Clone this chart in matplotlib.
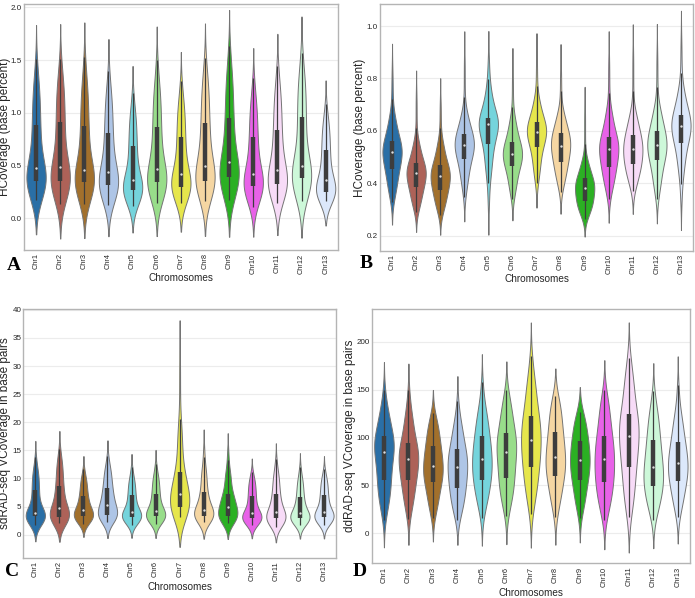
import math
import numpy as np
import matplotlib
matplotlib.use("Agg")
import matplotlib.pyplot as plt

plt.rcParams['font.family'] = ['Liberation Sans', 'DejaVu Sans']

chromosomes = ["Chr1", "Chr2", "Chr3", "Chr4", "Chr5", "Chr6", "Chr7",
               "Chr8", "Chr9", "Chr10", "Chr11", "Chr12", "Chr13"]
palette = ["#2a6fa6", "#ad6258", "#a2702c", "#aec5e6", "#75d4dc", "#98dd8a",
           "#e6e64c", "#f5d6a2", "#2bb023", "#e862e8", "#f7dbf7", "#cdf8d9",
           "#dce8fb"]

# quantile levels of the summary values
quantile_levels = [0.0, 0.05, 0.25, 0.50, 0.75, 0.95, 1.0]

# ---- Panel A: HCoverage (base percent) ----
A_min = [0.17, 0.14, 0.14, 0.13, 0.12, 0.15, 0.15, 0.16, 0.17, 0.11, 0.15, 0.16, 0.16]
A_p05 = [0.22, 0.21, 0.20, 0.19, 0.17, 0.21, 0.20, 0.22, 0.23, 0.18, 0.20, 0.22, 0.19]
A_q1 = [0.357, 0.354, 0.348, 0.32, 0.27, 0.34, 0.30, 0.354, 0.395, 0.31, 0.33, 0.38, 0.25]
A_med = [0.474, 0.49, 0.46, 0.44, 0.36, 0.47, 0.42, 0.50, 0.53, 0.42, 0.46, 0.50, 0.36]
A_q3 = [0.885, 0.916, 0.875, 0.81, 0.69, 0.87, 0.77, 0.90, 0.95, 0.77, 0.84, 0.96, 0.65]
A_p95 = [1.28, 1.30, 1.28, 1.18, 1.00, 1.25, 1.10, 1.30, 1.38, 1.12, 1.22, 1.35, 0.92]
A_max = [1.51, 1.51, 1.53, 1.40, 1.19, 1.50, 1.30, 1.52, 1.63, 1.33, 1.44, 1.57, 1.08]

# ---- Panel B: HCoverage (base percent) ----
B_min = [0.33, 0.29, 0.28, 0.34, 0.30, 0.34, 0.39, 0.365, 0.265, 0.34, 0.37, 0.34, 0.32]
B_p05 = [0.37, 0.32, 0.31, 0.40, 0.43, 0.38, 0.44, 0.41, 0.29, 0.39, 0.41, 0.39, 0.44]
B_q1 = [0.455, 0.387, 0.375, 0.492, 0.549, 0.467, 0.54, 0.483, 0.332, 0.464, 0.473, 0.489, 0.555]
B_med = [0.518, 0.438, 0.428, 0.546, 0.627, 0.512, 0.597, 0.544, 0.383, 0.531, 0.531, 0.545, 0.617]
B_q3 = [0.562, 0.476, 0.47, 0.587, 0.648, 0.557, 0.632, 0.591, 0.419, 0.576, 0.585, 0.60, 0.661]
B_p95 = [0.66, 0.56, 0.56, 0.67, 0.76, 0.65, 0.72, 0.67, 0.49, 0.68, 0.67, 0.69, 0.76]
B_max = [0.845, 0.755, 0.725, 0.895, 0.885, 0.835, 0.89, 0.85, 0.70, 0.89, 0.92, 0.915, 0.96]

# ---- Panel C: sdRAD-seq VCoverage in base pairs ----
C_min = [1.7, 2.0, 1.9, 2.2, 1.8, 1.9, 3.2, 2.2, 2.0, 1.7, 1.4, 1.7, 1.7]
C_p05 = [2.2, 2.4, 2.3, 2.7, 2.3, 2.4, 3.8, 2.7, 2.5, 2.2, 1.9, 2.2, 2.2]
C_q1 = [3.3, 3.2, 3.3, 3.5, 3.2, 3.3, 5.0, 3.4, 3.3, 2.9, 2.9, 2.9, 3.1]
C_med = [3.8, 4.7, 4.3, 5.3, 4.0, 4.2, 7.3, 4.4, 5.0, 3.8, 4.0, 3.8, 4.0]
C_q3 = [7.9, 8.6, 6.9, 8.3, 7.0, 7.3, 11.2, 7.6, 7.3, 6.9, 7.2, 6.7, 7.0]
C_p95 = [11.5, 13.0, 10.0, 11.8, 10.0, 10.5, 20.0, 12.0, 11.5, 9.8, 11.0, 10.0, 10.0]
C_max = [13.8, 15.2, 11.7, 14.0, 12.0, 12.6, 32.8, 15.8, 15.3, 11.2, 13.5, 12.1, 11.6]

# ---- Panel D: ddRAD-seq VCoverage in base pairs ----
D_min = [14, 15, 16, 14, 16, 18, 20, 17, 16, 14, 17, 14, 17]
D_p05 = [30, 30, 28, 25, 32, 33, 38, 33, 30, 28, 32, 27, 30]
D_q1 = [56, 56, 53, 47.6, 56, 58, 69, 60, 56, 53, 69, 49, 55]
D_med = [85, 77, 70, 69, 77, 85, 97, 80, 76, 77, 101, 69, 73]
D_q3 = [101, 94, 91, 87.5, 101, 105, 122, 106, 96.5, 102, 124, 97, 95]
D_p95 = [128, 125, 115, 115, 130, 135, 160, 135, 120, 135, 165, 128, 125]
D_max = [150, 150, 125, 138, 158, 150, 185, 143, 127, 150, 183, 148, 157]

panels = [
    dict(letter="A", ylabel="HCoverage (base percent)",
         stats=[A_min, A_p05, A_q1, A_med, A_q3, A_p95, A_max],
         ylim=(-0.30, 2.031), yticks=[0.0, 0.5, 1.0, 1.5, 2.0], fmt="{:.1f}",
         rect=(24, 4, 337.7, 250), ylab_x=11.3, xlab_y=273.5, letter_xy=(14, 265)),
    dict(letter="B", ylabel="HCoverage (base percent)",
         stats=[B_min, B_p05, B_q1, B_med, B_q3, B_p95, B_max],
         ylim=(0.143, 1.084), yticks=[0.2, 0.4, 0.6, 0.8, 1.0], fmt="{:.1f}",
         rect=(380, 4, 693, 250.7), ylab_x=365.5, xlab_y=274.5, letter_xy=(366, 263)),
    dict(letter="C", ylabel="sdRAD-seq VCoverage in base pairs",
         stats=[C_min, C_p05, C_q1, C_med, C_q3, C_p95, C_max],
         ylim=(-4.1, 40.1), yticks=[0, 5, 10, 15, 20, 25, 30, 35, 40], fmt="{:.0f}",
         rect=(23.3, 309.3, 336, 557.7), ylab_x=11.5, xlab_y=581.5, letter_xy=(12, 572)),
    dict(letter="D", ylabel="ddRAD-seq VCoverage in base pairs",
         stats=[D_min, D_p05, D_q1, D_med, D_q3, D_p95, D_max],
         ylim=(-31.3, 234), yticks=[0, 50, 100, 150, 200], fmt="{:.0f}",
         rect=(371.7, 309, 690, 563.3), ylab_x=355.5, xlab_y=588.5, letter_xy=(360, 572)),
]

W, H = 695, 598
BW_FACTOR = 0.46
CUT = 2.0

_erf = np.frompyfunc(math.erf, 1, 1)


def norm_cdf(z):
    return 0.5 * (1.0 + _erf(np.asarray(z) / math.sqrt(2.0)).astype(float))


def violin_stat(knots):
    knots = np.asarray(knots, dtype=float)
    mass = np.diff(quantile_levels)
    a, b = knots[:-1], knots[1:]
    mean = np.sum(mass * (a + b) / 2)
    ex2 = np.sum(mass * (a * a + a * b + b * b) / 3)
    std = math.sqrt(max(ex2 - mean ** 2, 1e-12))
    h = BW_FACTOR * std
    y = np.linspace(knots[0] - CUT * h, knots[-1] + CUT * h, 300)
    dens = np.zeros_like(y)
    for m, lo, hi in zip(mass, a, b):
        if hi - lo < 1e-9:
            dens += m * np.exp(-0.5 * ((y - lo) / h) ** 2) / (h * math.sqrt(2 * math.pi))
        else:
            dens += m / (hi - lo) * (norm_cdf((y - lo) / h) - norm_cdf((y - hi) / h))
    return dict(coords=y, vals=dens, mean=mean, median=knots[3],
                min=knots[0], max=knots[-1])


fig = plt.figure(figsize=(W / 100, H / 100), dpi=100)
fig.patch.set_facecolor("white")

for p in panels:
    l, t, r, b = p["rect"]
    ax = fig.add_axes([l / W, 1 - b / H, (r - l) / W, (b - t) / H])
    ax.set_facecolor("white")
    ax.set_axisbelow(True)
    ax.yaxis.grid(True, color="#ececec", lw=0.8)
    ax.xaxis.grid(False)
    for s in ax.spines.values():
        s.set_color("#b4b4b4")
        s.set_linewidth(1.0)

    cols = list(zip(*p["stats"]))
    vp = [violin_stat(c) for c in cols]
    pos = np.arange(len(chromosomes))
    parts = ax.violin(vp, positions=pos, widths=0.8, showmeans=False,
                      showextrema=False, showmedians=False)
    for body, col in zip(parts["bodies"], palette):
        body.set_facecolor(col)
        body.set_edgecolor("#747474")
        body.set_linewidth(0.7)
        body.set_alpha(1.0)

    for x, c in zip(pos, cols):
        lo, p05, q1, med, q3, p95, hi = c
        iqr = q3 - q1
        wl = max(lo, q1 - 1.5 * iqr)
        wh = min(hi, q3 + 1.5 * iqr)
        ax.vlines(x, wl, wh, color="#3d3d3d", lw=0.9, zorder=3)
        ax.vlines(x, q1, q3, color="#3d3d3d", lw=3.2, zorder=3)
        ax.scatter([x], [med], s=3, color="#dddddd", zorder=4, linewidths=0)

    ax.set_xlim(-0.5, len(chromosomes) - 0.5)
    ax.set_ylim(*p["ylim"])
    ax.set_xticks(pos)
    ax.set_xticklabels(chromosomes, rotation=90, fontsize=5.3, color="#262626")
    ax.set_yticks(p["yticks"])
    ax.set_yticklabels([p["fmt"].format(v) for v in p["yticks"]], fontsize=5.8,
                       color="#262626")
    ax.tick_params(axis="x", length=0, pad=2.5)
    ax.tick_params(axis="y", length=0, pad=1.5)
    ax.set_xlabel("Chromosomes", fontsize=7.2, color="#262626", va="top")
    ax.xaxis.set_label_coords(0.5, -(p["xlab_y"] - b) / (b - t))
    ax.set_ylabel(p["ylabel"], fontsize=8.5, color="#262626")
    ax.yaxis.set_label_coords((p["ylab_x"] - l) / (r - l), 0.5)

    lx, ly = p["letter_xy"]
    fig.text(lx / W, 1 - ly / H, p["letter"], family="Liberation Serif",
             fontweight="bold", fontsize=14, ha="center", va="center")

fig.savefig("out.png", dpi=100, facecolor="white")
